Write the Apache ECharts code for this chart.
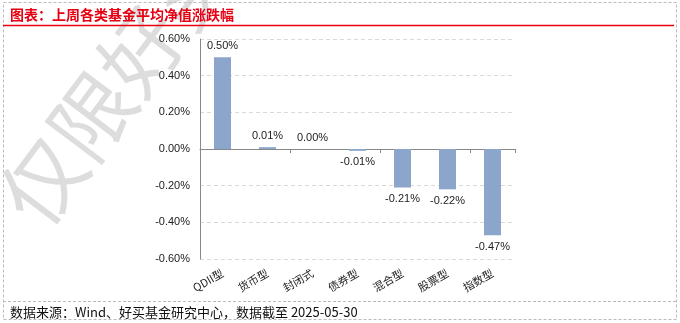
<!DOCTYPE html>
<html><head><meta charset="utf-8">
<script src="https://cdn.jsdelivr.net/npm/echarts@6/dist/echarts.min.js"></script>
<style>html,body{margin:0;padding:0;background:#fff}#c{width:680px;height:323px}</style>
</head><body><div id="c"></div>
<script>
const categories = ['QDII型','货币型','封闭式','债券型','混合型','股票型','指数型'];
const values = [0.50, 0.01, 0.00, -0.01, -0.21, -0.22, -0.47];
const yTicks = [-0.6, 0.6, 0.2]; // min, max, interval
const titleText = '图表：上周各类基金平均净值涨跌幅';
const sourceText = '数据来源：Wind、好买基金研究中心，数据截至 2025-05-30';
const watermarkText = '仅限好买基金';

const chart = echarts.init(document.getElementById('c'), null, {renderer:'canvas'});
const font = '"Liberation Sans", "Noto Sans CJK SC", sans-serif';
const cjk = '"Noto Sans CJK SC", sans-serif';
chart.setOption({
  animation:false,
  backgroundColor:'#fff',
  graphic:[
    {type:'text', z:-10, x:18, y:214, rotation:53*Math.PI/180,
     style:{text:watermarkText, font:'82px '+cjk, fill:'rgba(180,180,180,0.45)', verticalAlign:'middle', align:'left'}},
    {type:'rect', shape:{x:3.5,y:2.5,width:673,height:317}, style:{fill:'none', stroke:'#bbb', lineWidth:1, lineDash:[3,2]}},
    {type:'line', shape:{x1:3,y1:25.5,x2:674,y2:25.5}, style:{stroke:'#e60012', lineWidth:1.5}},
    {type:'line', shape:{x1:3,y1:301.5,x2:676,y2:301.5}, style:{stroke:'#bbb', lineWidth:1, lineDash:[3,2]}},
    {type:'text', x:10, y:15, style:{text:titleText, font:'bold 14px '+cjk, fill:'#e60012', verticalAlign:'middle'}},
    {type:'text', x:10, y:312, style:{text:sourceText, font:'13px '+cjk, fill:'#111', verticalAlign:'middle'}}
  ],
  grid:{left:200, top:39, width:315, height:220, containLabel:false},
  xAxis:[
    {type:'category', data:categories, axisLine:{onZero:true, lineStyle:{color:'#888'}},
     axisTick:{show:true, length:4, lineStyle:{color:'#888'}}, axisLabel:{show:false}, splitLine:{show:false}},
    {type:'category', data:categories, position:'bottom', axisLine:{show:false, onZero:false}, axisTick:{show:false},
     axisLabel:{rotate:30, margin:13, fontSize:11, color:'#222', fontFamily:cjk}}
  ],
  yAxis:{type:'value', min:yTicks[0], max:yTicks[1], interval:yTicks[2],
    axisLine:{show:true, lineStyle:{color:'#888'}}, axisTick:{show:false},
    splitLine:{lineStyle:{color:'#d9d9d9', type:[4,3]}},
    axisLabel:{fontSize:11, color:'#222', margin:10, fontFamily:font, formatter:v=>v.toFixed(2)+'%'}},
  series:[{type:'bar', xAxisIndex:0, barWidth:17,
    itemStyle:{color:'#8ca5cb'},
    data:values.map(v=>({value:v, label:{position: v<0?'bottom':'top'}})),
    label:{show:true, fontSize:11, color:'#222', fontFamily:font, distance:6, formatter:p=>p.value.toFixed(2)+'%'}
  }]
});
</script></body></html>
